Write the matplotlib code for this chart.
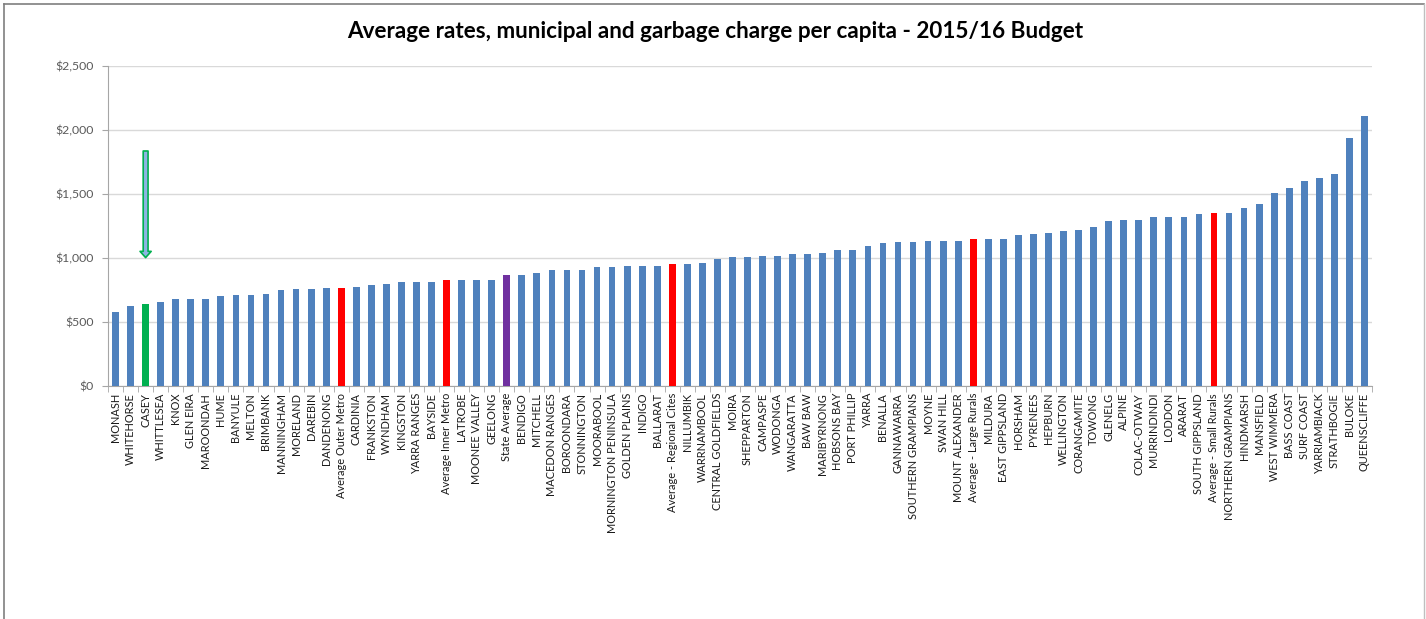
import matplotlib
matplotlib.use("Agg")
import matplotlib.pyplot as plt
from matplotlib.lines import Line2D
from matplotlib.ticker import FuncFormatter, MultipleLocator, FixedLocator
import numpy as np

councils = ["MONASH", "WHITEHORSE", "CASEY", "WHITTLESEA", "KNOX", "GLEN EIRA", "MAROONDAH", "HUME",
            "BANYULE", "MELTON", "BRIMBANK", "MANNINGHAM", "MORELAND", "DAREBIN", "DANDENONG",
            "Average Outer Metro", "CARDINIA", "FRANKSTON", "WYNDHAM", "KINGSTON", "YARRA RANGES",
            "BAYSIDE", "Average Inner Metro", "LATROBE", "MOONEE VALLEY", "GEELONG", "State Average",
            "BENDIGO", "MITCHELL", "MACEDON RANGES", "BOROONDARA", "STONNINGTON", "MOORABOOL",
            "MORNINGTON PENINSULA", "GOLDEN PLAINS", "INDIGO", "BALLARAT", "Average - Regional Cites",
            "NILLUMBIK", "WARRNAMBOOL", "CENTRAL GOLDFIELDS", "MOIRA", "SHEPPARTON", "CAMPASPE",
            "WODONGA", "WANGARATTA", "BAW BAW", "MARIBYRNONG", "HOBSONS BAY", "PORT PHILLIP", "YARRA",
            "BENALLA", "GANNAWARRA", "SOUTHERN GRAMPIANS", "MOYNE", "SWAN HILL", "MOUNT ALEXANDER",
            "Average - Large Rurals", "MILDURA", "EAST GIPPSLAND", "HORSHAM", "PYRENEES", "HEPBURN",
            "WELLINGTON", "CORANGAMITE", "TOWONG", "GLENELG", "ALPINE", "COLAC-OTWAY", "MURRINDINDI",
            "LODDON", "ARARAT", "SOUTH GIPPSLAND", "Average - Small Rurals", "NORTHERN GRAMPIANS",
            "HINDMARSH", "MANSFIELD", "WEST WIMMERA", "BASS COAST", "SURF COAST", "YARRIAMBIACK",
            "STRATHBOGIE", "BULOKE", "QUEENSCLIFFE"]

charge_per_capita = [578, 623, 641, 656, 677, 682, 682, 703,
                     708, 708, 719, 747, 758, 758, 763,
                     763, 773, 789, 794, 810, 815,
                     815, 828, 828, 828, 828, 865,
                     870, 886, 904, 909, 909, 930,
                     930, 935, 935, 940, 951,
                     951, 961, 990, 1005, 1005, 1014,
                     1014, 1034, 1034, 1042, 1063, 1065, 1094,
                     1117, 1122, 1125, 1130, 1130, 1130,
                     1146, 1146, 1146, 1177, 1188, 1193,
                     1214, 1222, 1239, 1290, 1295, 1293, 1319,
                     1319, 1323, 1344, 1349, 1354,
                     1393, 1422, 1508, 1547, 1599, 1628,
                     1654, 1935, 2107]

highlight = "CASEY"
state_avg = "State Average"
arrow_top = 1836
arrow_tip = 1003

BLUE = "#4F81BD"
RED = "#FF0000"
GREEN = "#00B050"
PURPLE = "#7030A0"

colors = []
for c in councils:
    if c == highlight:
        colors.append(GREEN)
    elif c == state_avg:
        colors.append(PURPLE)
    elif c.startswith("Average"):
        colors.append(RED)
    else:
        colors.append(BLUE)

fig = plt.figure(figsize=(14.26, 6.19), dpi=100)
ax = fig.add_axes([108/1426, 1-386/619, (1372-108)/1426, (386-66)/619])

x = np.arange(len(councils))
ax.bar(x, charge_per_capita, width=0.45, color=colors, zorder=3)

ax.set_xlim(-0.5, len(councils) - 0.5)
ax.set_ylim(0, 2500)
ax.yaxis.set_major_locator(MultipleLocator(500))
ax.yaxis.set_major_formatter(FuncFormatter(lambda v, p: "${:,.0f}".format(v)))
ax.grid(axis="y", color="#D9D9D9", linewidth=1, zorder=0)

ax.set_xticks(x)
ax.set_xticklabels(councils, rotation=90, fontsize=7.9, family="Lato", color="#1a1a1a")
ax.tick_params(axis="x", which="major", length=0, pad=5)
ax.xaxis.set_minor_locator(FixedLocator(np.arange(-0.5, len(councils), 1.0)))
ax.tick_params(axis="x", which="minor", length=4, color="#A6A6A6", direction="out")
ax.tick_params(axis="y", labelsize=8.8, labelcolor="#595959", length=4, color="#A6A6A6", pad=6)
for lbl in ax.get_yticklabels():
    lbl.set_family("Lato")

for s in ["top", "right"]:
    ax.spines[s].set_visible(False)
ax.spines["left"].set_color("#A6A6A6")
ax.spines["bottom"].set_color("#A6A6A6")

# Arrow pointing to the highlighted council
ci = councils.index(highlight)
ax.annotate("", xy=(ci, arrow_tip), xytext=(ci, arrow_top),
            arrowprops=dict(arrowstyle="simple,head_length=0.45,head_width=0.8,tail_width=0.35",
                            facecolor="#8DB4E2", edgecolor=GREEN, linewidth=1.2,
                            shrinkA=0, shrinkB=0), zorder=5)

fig.text(715/1426, 1-31/619, "Average rates, municipal and garbage charge per capita - 2015/16 Budget",
         ha="center", va="center", fontsize=16.2, fontweight="bold", family="Lato")

# Outer frame
fig.add_artist(Line2D([4/1426, 1424/1426], [1-4/619, 1-4/619], color="#7F7F7F", lw=1.2))
fig.add_artist(Line2D([4/1426, 4/1426], [1-4/619, 0], color="#7F7F7F", lw=1.2))
fig.add_artist(Line2D([1424/1426, 1424/1426], [1-4/619, 0], color="#BFBFBF", lw=1.0))

fig.savefig("out.png", dpi=100)
